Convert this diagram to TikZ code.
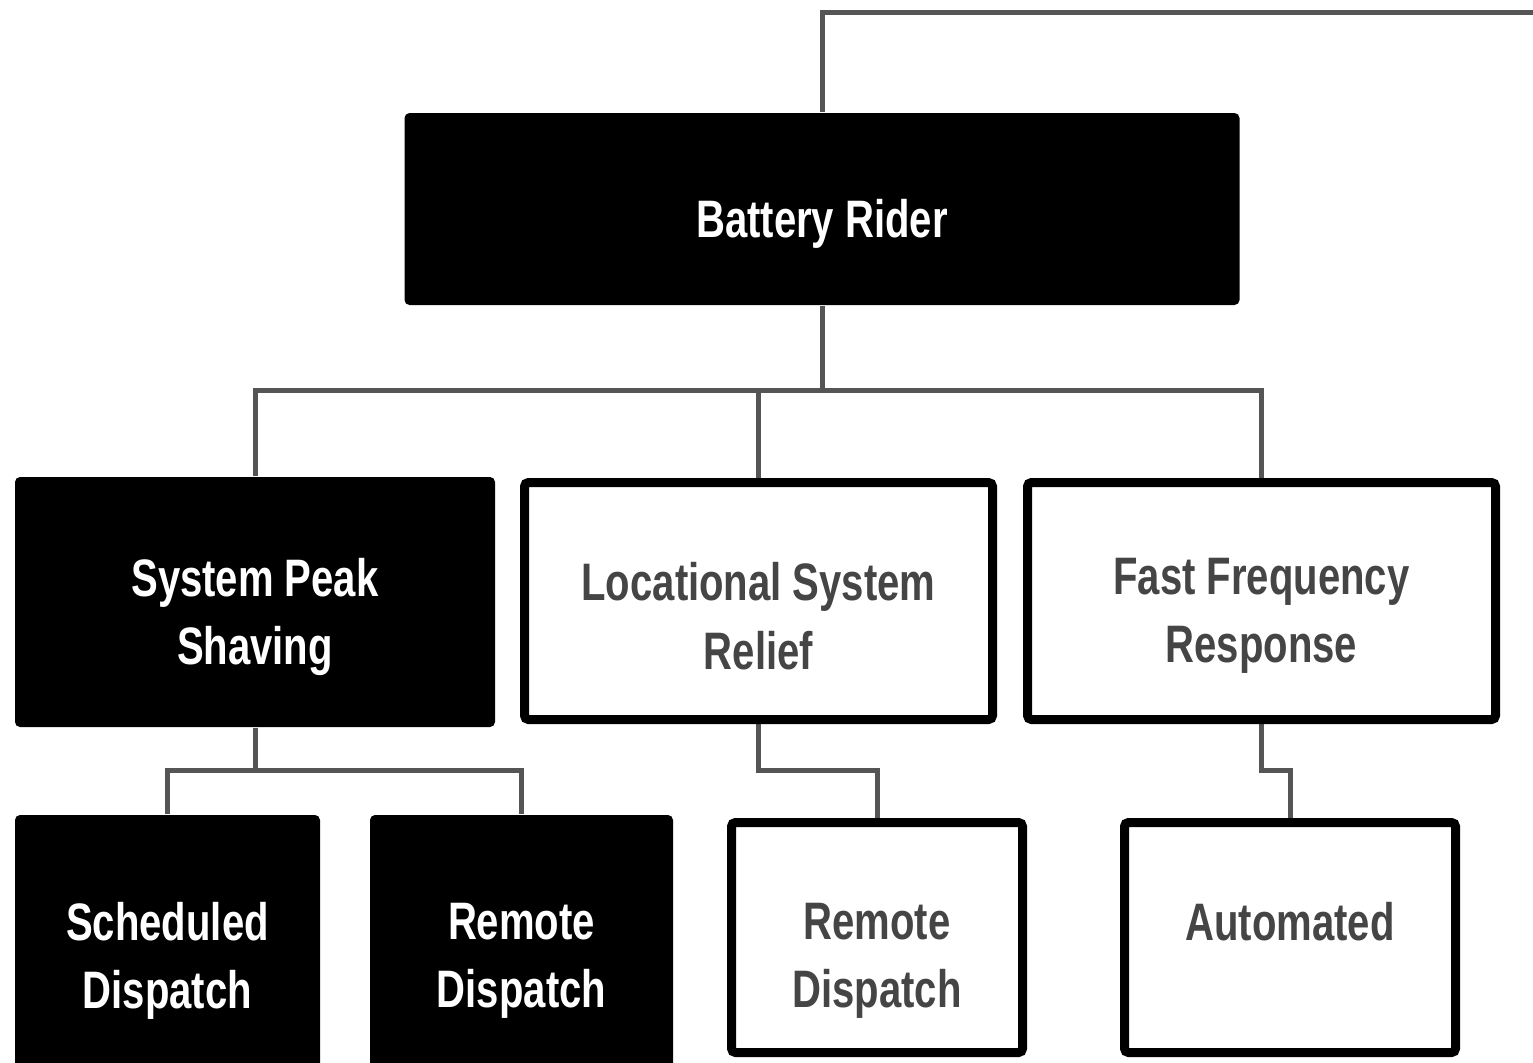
\documentclass[tikz,border=0pt]{standalone}
\usepackage{fontspec}
\setmainfont{Liberation Sans}[FakeStretch=0.76]
\usepackage{xcolor}
\usetikzlibrary{positioning,calc,backgrounds}
\definecolor{RiderBlack}{HTML}{000000}
\definecolor{RiderWhite}{HTML}{ffffff}
\definecolor{RiderGray}{HTML}{454545}
\definecolor{RiderLine}{HTML}{555555}
\tikzset{
    % Filled boxes
    dark box/.style={
        rectangle,
        draw=none,
        fill=RiderBlack,
        rounded corners=0.05cm
    },
    % Outlined boxes
    light box/.style={
        rectangle,
        draw=RiderBlack,
        line width=0.09cm,
        rounded corners=0.04cm,
        fill=RiderWhite
    },
    % Box texts, set a little below the middle
    dark text/.style={
        text=RiderWhite,
        align=center,
        yshift=-0.15cm,
        font=\fontsize{15}{19.5}\selectfont\bfseries
    },
    light text/.style={
        dark text,
        text=RiderGray
    },
    conn/.style={
        draw=RiderLine,
        line width=0.05cm
    }
}
\begin{document}
\begin{tikzpicture}
    \useasboundingbox (0,0) rectangle (15.33,-10.62);

    % Top level
    \node[dark box, minimum width=8.35cm, minimum height=1.92cm,
          label={[dark text]center:Battery Rider}] (rider) at (8.22,-2.09) {};

    % Programs
    \node[dark box, minimum width=4.80cm, minimum height=2.50cm,
          label={[dark text]center:{System Peak\\Shaving}}] (peak) at (2.55,-6.02) {};
    \node[light box, minimum width=4.68cm, minimum height=2.37cm,
          label={[light text]center:{Locational System\\Relief}}] (relief) at (7.585,-6.01) {};
    \node[light box, minimum width=4.68cm, minimum height=2.37cm,
          label={[light text]center:{Fast Frequency\\Response}}] (ffr) at (12.615,-6.01) {};

    % Dispatch modes
    \node[dark box, minimum width=3.05cm, minimum height=2.80cm,
          label={[dark text, yshift=0.09cm]center:{Scheduled\\Dispatch}}] (sched) at (1.675,-9.55) {};
    \node[dark box, minimum width=3.03cm, minimum height=2.80cm,
          label={[dark text, yshift=0.09cm]center:{Remote\\Dispatch}}] (remote) at (5.215,-9.55) {};
    \node[light box, minimum width=2.91cm, minimum height=2.30cm,
          label={[light text, yshift=-0.085cm]center:{Remote\\Dispatch}}] (remotels) at (8.77,-9.375) {};
    \node[light box, minimum width=3.31cm, minimum height=2.30cm,
          label={[light text, yshift=0.305cm]center:Automated}] (auto) at (12.90,-9.375) {};

    % Connectors
    \coordinate (feed) at (15.33,-0.12);
    \coordinate (bus) at (8.22,-3.90);
    \coordinate (peakbus) at (2.55,-7.70);
    \begin{scope}[on background layer]
        \draw[conn] (rider.north) |- (feed);
        \draw[conn] (rider.south) -- (bus);
        \draw[conn] (peak.north) |- (bus) -| (ffr.north);
        \draw[conn] (relief.north) -- (relief.north |- bus);
        \draw[conn] (peak.south) -- (peakbus);
        \draw[conn] (sched.north) |- (peakbus) -| (remote.north);
        \draw[conn] (relief.south) |- ($(relief.south |- peakbus)$) -| (remotels.north);
        \draw[conn] (ffr.south) |- ($(ffr.south |- peakbus)$) -| (auto.north);
    \end{scope}
\end{tikzpicture}
\end{document}
